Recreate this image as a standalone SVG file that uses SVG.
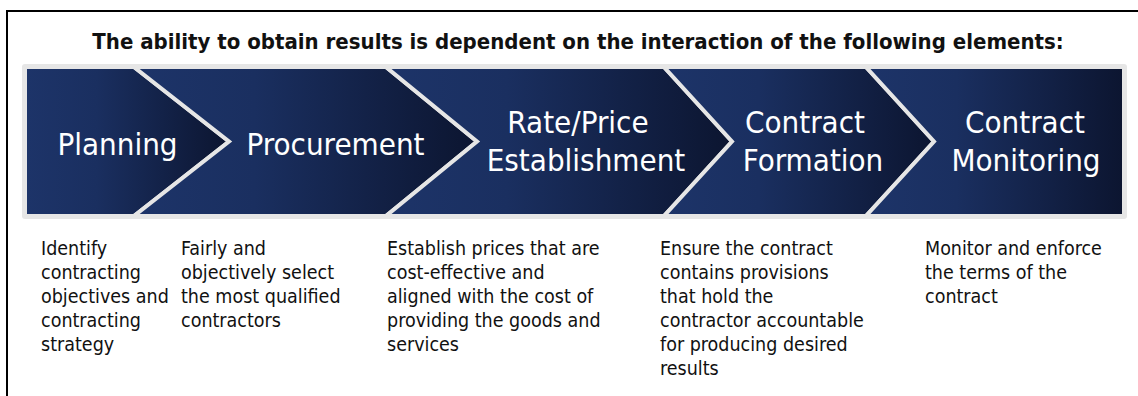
<svg xmlns="http://www.w3.org/2000/svg" width="1138" height="396" viewBox="0 0 1138 396">
<defs>
<linearGradient id="seg" x1="0" y1="0" x2="1" y2="0">
<stop offset="0" stop-color="#1d3469"/>
<stop offset="0.35" stop-color="#1a2f60"/>
<stop offset="1" stop-color="#0c1530"/>
</linearGradient>
</defs>
<style>
.chev{fill:url(#seg);stroke:#e6e6e6;stroke-width:4;stroke-linejoin:miter}
.lbl{font-family:"DejaVu Sans Condensed","DejaVu Sans",sans-serif;font-stretch:condensed;font-size:31px;fill:#ffffff;text-anchor:middle}
.title{font-family:"DejaVu Sans Condensed","DejaVu Sans",sans-serif;font-stretch:condensed;font-size:22px;font-weight:bold;fill:#111111;text-anchor:middle}
.body{font-family:"DejaVu Sans Condensed","DejaVu Sans",sans-serif;font-stretch:condensed;font-size:19.5px;fill:#111111}
</style>
<rect x="0" y="0" width="1138" height="396" fill="#ffffff"/>
<g id="frame">
<line x1="7" y1="11" x2="1138" y2="11" stroke="#000" stroke-width="2"/>
<line x1="7" y1="10" x2="7" y2="396" stroke="#000" stroke-width="2"/>
</g>
<text class="title" x="578" y="49">The ability to obtain results is dependent on the interaction of the following elements:</text>
<rect id="band" x="22" y="64" width="1105" height="155" rx="3" fill="#e6e6e6"/>
<g id="connectors"></g>
<g id="planning">
<polygon class="chev" points="25,67 134,67 229,141.5 134,216 25,216"/>
<text class="lbl" x="117.5" y="155">Planning</text>
<text class="body"><tspan x="41" y="255">Identify</tspan><tspan x="41" y="279">contracting</tspan><tspan x="41" y="303">objectives and</tspan><tspan x="41" y="327">contracting</tspan><tspan x="41" y="351">strategy</tspan></text>
</g>
<g id="procurement">
<polygon class="chev" points="134,67 386,67 477,141.5 386,216 134,216 229,141.5"/>
<text class="lbl" x="335.5" y="155">Procurement</text>
<text class="body"><tspan x="181" y="255">Fairly and</tspan><tspan x="181" y="279">objectively select</tspan><tspan x="181" y="303">the most qualified</tspan><tspan x="181" y="327">contractors</tspan></text>
</g>
<g id="rate-price">
<polygon class="chev" points="386,67 664,67 732,141.5 664,216 386,216 477,141.5"/>
<text class="lbl" x="578" y="133">Rate/Price</text>
<text class="lbl" x="586" y="171">Establishment</text>
<text class="body"><tspan x="387" y="255">Establish prices that are</tspan><tspan x="387" y="279">cost-effective and</tspan><tspan x="387" y="303">aligned with the cost of</tspan><tspan x="387" y="327">providing the goods and</tspan><tspan x="387" y="351">services</tspan></text>
</g>
<g id="contract-formation">
<polygon class="chev" points="664,67 866,67 934,141.5 866,216 664,216 732,141.5"/>
<text class="lbl" x="805" y="133">Contract</text>
<text class="lbl" x="813" y="171">Formation</text>
<text class="body"><tspan x="660" y="255">Ensure the contract</tspan><tspan x="660" y="279">contains provisions</tspan><tspan x="660" y="303">that hold the</tspan><tspan x="660" y="327">contractor accountable</tspan><tspan x="660" y="351">for producing desired</tspan><tspan x="660" y="375">results</tspan></text>
</g>
<g id="contract-monitoring">
<polygon class="chev" points="866,67 1124,67 1124,216 866,216 934,141.5"/>
<text class="lbl" x="1025" y="133">Contract</text>
<text class="lbl" x="1026" y="171">Monitoring</text>
<text class="body"><tspan x="925" y="255">Monitor and enforce</tspan><tspan x="925" y="279">the terms of the</tspan><tspan x="925" y="303">contract</tspan></text>
</g>
</svg>
